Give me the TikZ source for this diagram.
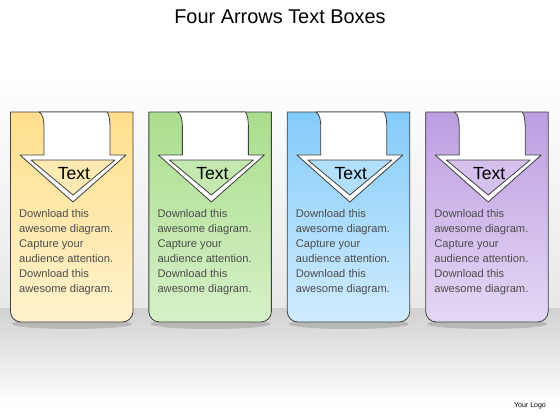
\documentclass[tikz,border=0pt]{standalone}
\usepackage{fontspec}
\setmainfont{Liberation Sans}
\definecolor{ylwT}{RGB}{255,223,140}
\definecolor{ylwB}{RGB}{255,242,205}
\definecolor{grnT}{RGB}{170,221,140}
\definecolor{grnB}{RGB}{214,241,200}
\definecolor{bluT}{RGB}{132,203,248}
\definecolor{bluB}{RGB}{208,236,255}
\definecolor{prpT}{RGB}{188,158,224}
\definecolor{prpB}{RGB}{228,216,245}
\tikzset{
  cardline/.style={draw=black!75,line width=0.7pt},
  bodytext/.style={anchor=north west,align=left,text=black!70,font=\fontsize{9.5}{12.8}\selectfont}
}
\begin{document}
\begin{tikzpicture}[x=0.03cm,y=-0.03cm,line join=round,line cap=round]
\useasboundingbox (0,0) rectangle (560,420);
% backdrop and floor
\fill[top color=white,bottom color=black!9] (0,70) rectangle (560,308);
\fill[top color=black!18,bottom color=white] (0,308) rectangle (560,405);
\node[font=\fontsize{17}{20}\selectfont] (title) at (280,17) {Four Arrows Text Boxes};
\foreach \i/\ct/\cb in {0/ylwT/ylwB,1/grnT/grnB,2/bluT/bluB,3/prpT/prpB}{
  \begin{scope}[shift={(\i*138.4,0)}]
    \fill[black,opacity=0.15] (72,324) ellipse (60 and 5);
    \draw[cardline,top color=\ct,bottom color=\cb] (10.5,112) -- (133,112) [rounded corners=9pt] -- (133,322) -- (10.5,322) [sharp corners] -- cycle;
    % arrow with curled shaft
    \draw[cardline,fill=white] (39,112) .. controls (43,114) and (44,120) .. (44,128) -- (44,155) -- (20,155) -- (73,202) -- (126,155) -- (110,155) -- (110,128) .. controls (110,120) and (109,114) .. (107,112) -- cycle;
    \draw[cardline,fill=\cb!60!\ct] (31,160) -- (115,160) -- (73,195) -- cycle;
    \node[font=\fontsize{15}{18}\selectfont] (lbl\i) at (74,174) {Text};
    \node[bodytext] (txt\i) at (15,205) {Download this\\awesome diagram.\\Capture your\\audience attention.\\Download this\\awesome diagram.};
  \end{scope}
}
\node[font=\fontsize{6}{7}\selectfont] (logo) at (530,406) {Your Logo};
\end{tikzpicture}
\end{document}
